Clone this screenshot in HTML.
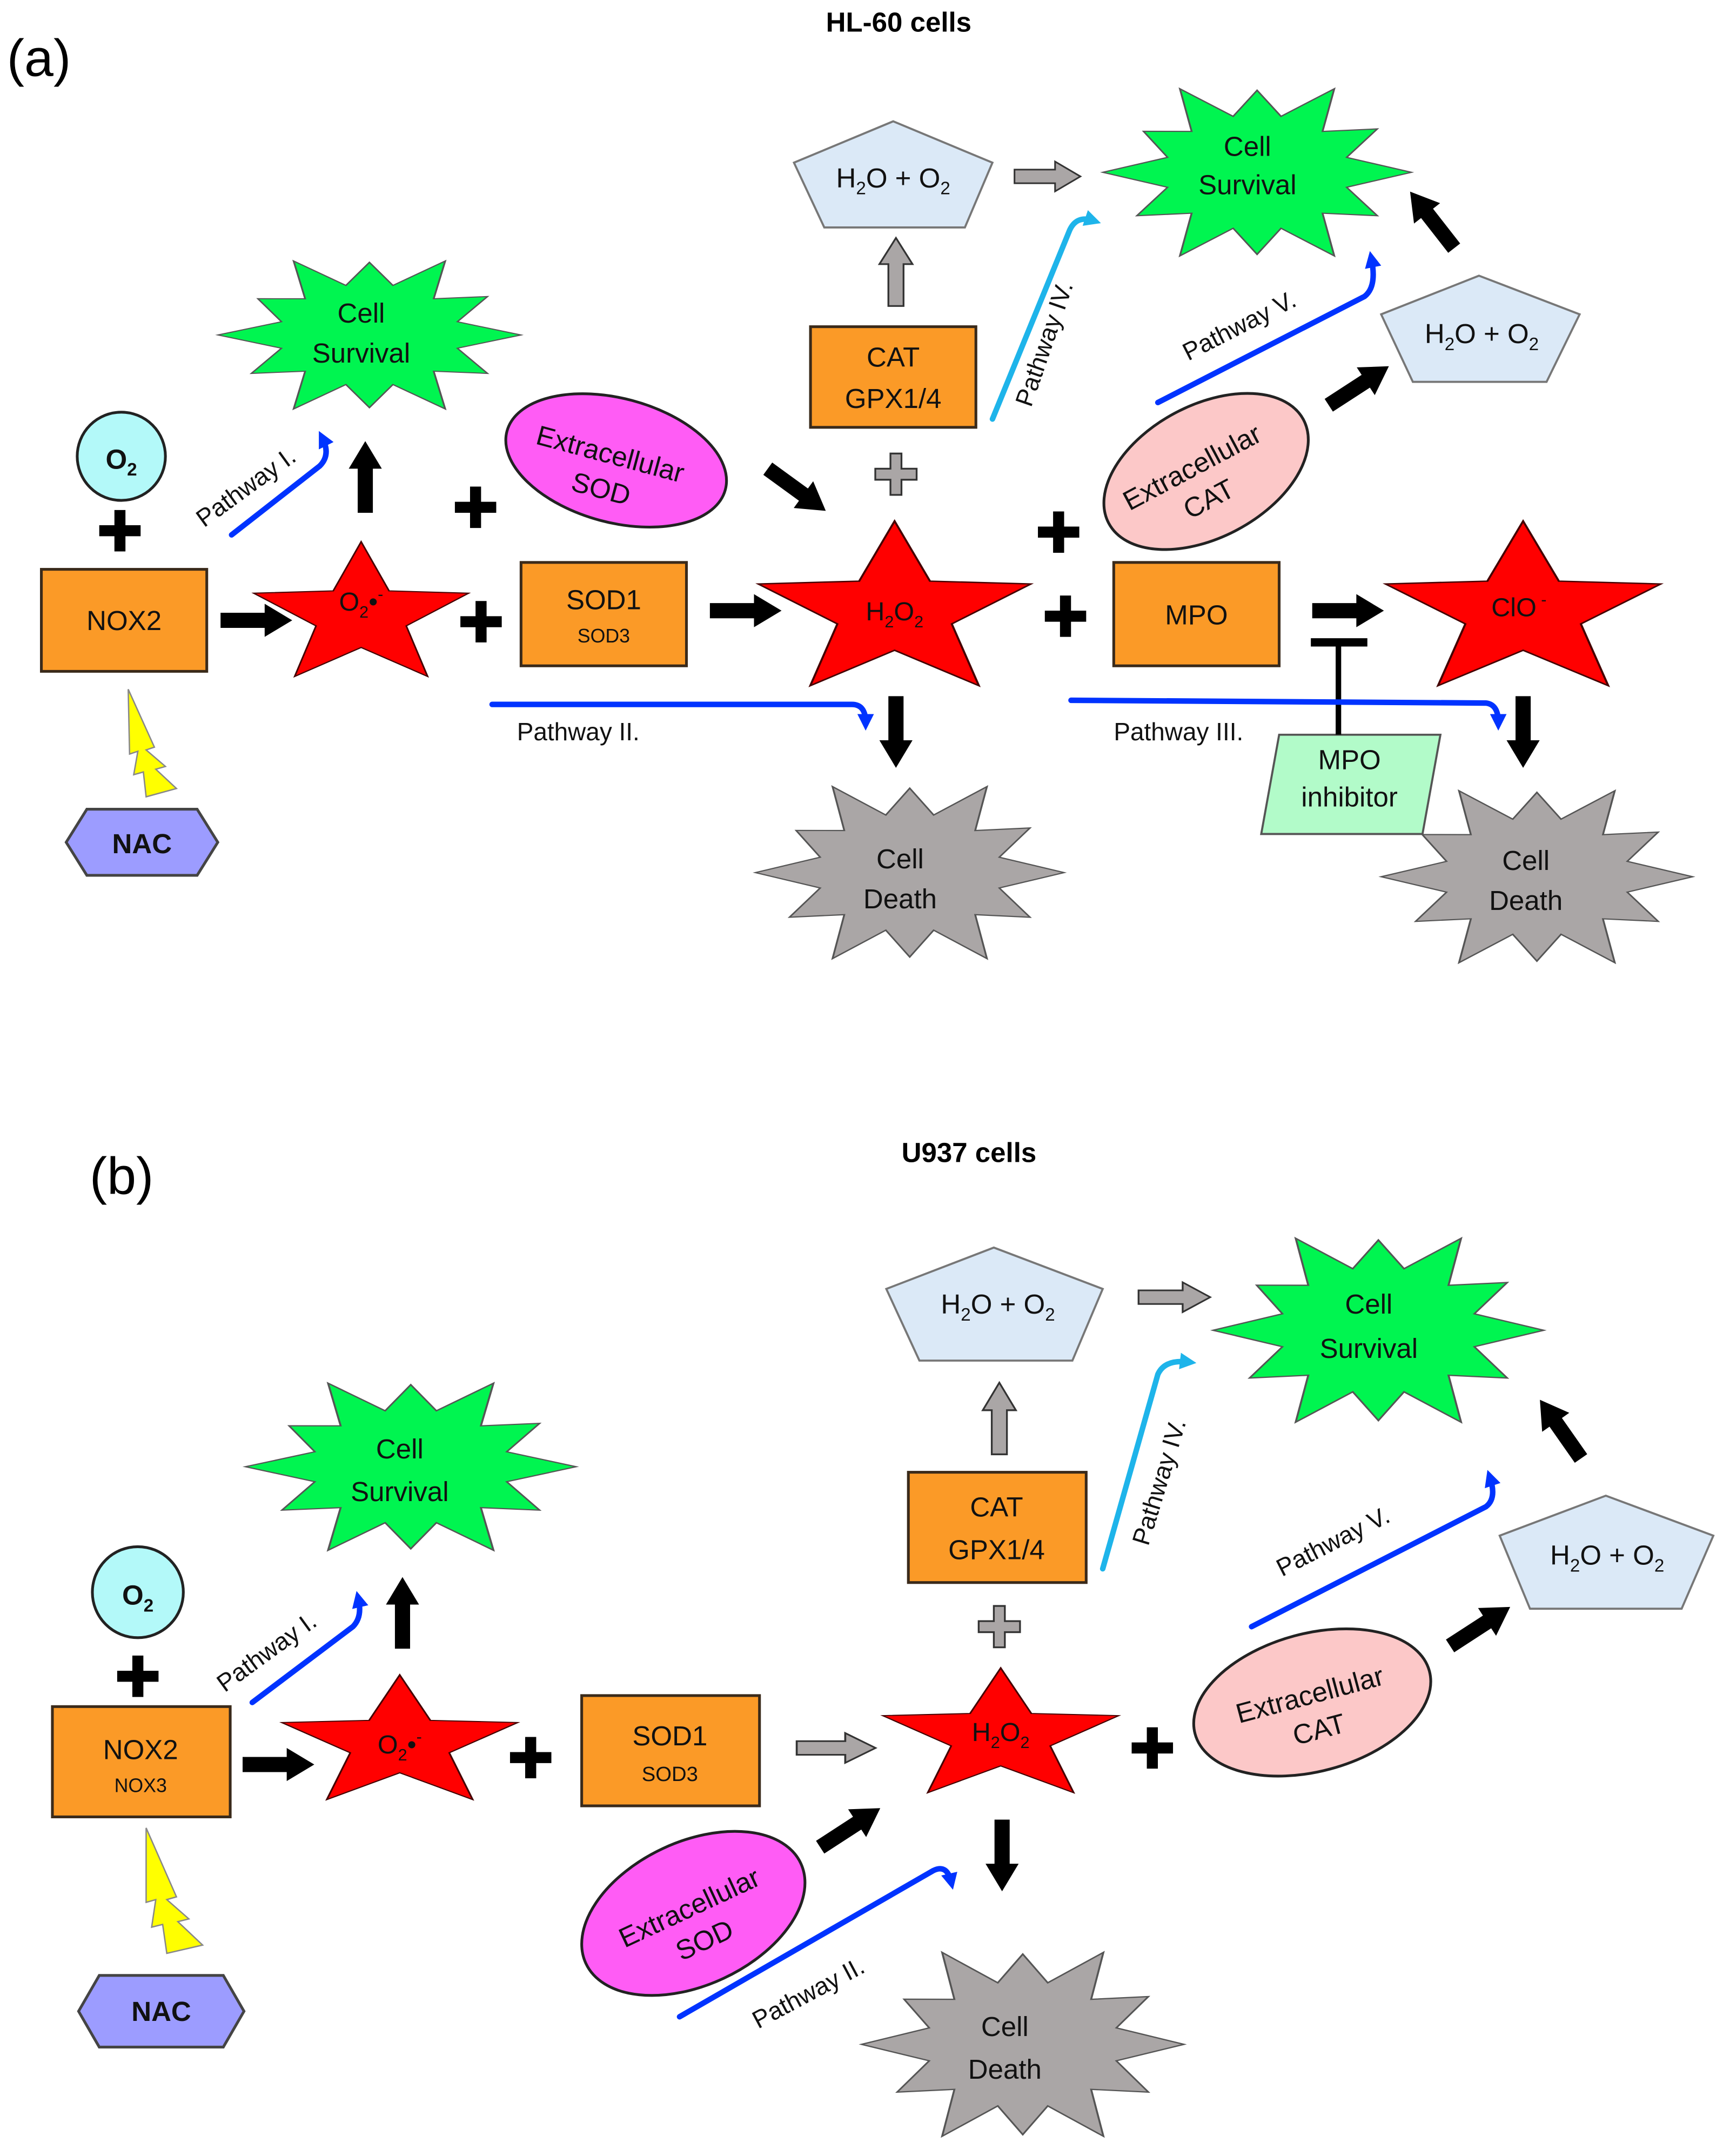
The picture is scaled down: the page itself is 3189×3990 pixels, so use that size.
<!DOCTYPE html>
<html><head><meta charset="utf-8"><style>
html,body{margin:0;padding:0;background:#fff}
svg{display:block}
text{font-family:"Liberation Sans",sans-serif}
</style></head><body>
<svg width="3189" height="3990" viewBox="0 0 1250 1564" xmlns="http://www.w3.org/2000/svg">
<defs>
<path id="star" d="M0,-1 L0.247,-0.34 L0.951,-0.309 L0.399,0.13 L0.588,0.809 L0,0.42 L-0.588,0.809 L-0.399,0.13 L-0.951,-0.309 L-0.247,-0.34 Z"/>
<path id="burst" d="M1,0 L0.58,0.155 L0.779,0.45 L0.424,0.424 L0.5,0.866 L0.155,0.58 L0,0.85 L-0.155,0.58 L-0.5,0.866 L-0.424,0.424 L-0.779,0.45 L-0.58,0.155 L-1,0 L-0.58,-0.155 L-0.736,-0.425 L-0.424,-0.424 L-0.5,-0.866 L-0.155,-0.58 L0,-0.85 L0.155,-0.58 L0.5,-0.866 L0.424,-0.424 L0.779,-0.45 L0.58,-0.155 Z"/>
<path id="arr" d="M0,-5.5 H32 V-12 L52,0 L32,12 V5.5 H0 Z"/>
<path id="plus" d="M-4,-15 H4 V-4 H15 V4 H4 V15 H-4 V4 H-15 V-4 H-4 Z"/>
<marker id="bh" markerWidth="3" markerHeight="3" refX="1.5" refY="1.5" orient="auto" markerUnits="strokeWidth"><path d="M0,0 L3,1.5 L0,3 Z" fill="#0033ff"/></marker>
<marker id="lh" markerWidth="3" markerHeight="3" refX="1.5" refY="1.5" orient="auto" markerUnits="strokeWidth"><path d="M0,0 L3,1.5 L0,3 Z" fill="#1eb4ea"/></marker>
</defs>

<text x="5" y="55" font-size="38">(a)</text>
<text x="652" y="23" font-size="20" font-weight="bold" text-anchor="middle">HL-60 cells</text>
<text x="65" y="866" font-size="38">(b)</text>
<text x="703" y="843" font-size="20" font-weight="bold" text-anchor="middle">U937 cells</text>

<g stroke="#555" stroke-width="0.012">
<use href="#burst" transform="translate(268,243) scale(110,62)" fill="#00f550"/>
<use href="#burst" transform="translate(912,125) scale(112,70)" fill="#00f550"/>
<use href="#burst" transform="translate(660,633) scale(112,72)" fill="#aaa6a6"/>
<use href="#burst" transform="translate(1115,636) scale(113,72)" fill="#aaa6a6"/>
<use href="#burst" transform="translate(298,1064) scale(120,70)" fill="#00f550"/>
<use href="#burst" transform="translate(1000,965) scale(120,77)" fill="#00f550"/>
<use href="#burst" transform="translate(742,1483) scale(117,77)" fill="#aaa6a6"/>
</g>

<g stroke="#400" stroke-width="0.015">
<use href="#star" transform="translate(262,447) scale(82,54)" fill="#ff0000"/>
<use href="#star" transform="translate(649,444) scale(104,66)" fill="#ff0000"/>
<use href="#star" transform="translate(1105,444) scale(105,66)" fill="#ff0000"/>
<use href="#star" transform="translate(290,1265) scale(90,50)" fill="#ff0000"/>
<use href="#star" transform="translate(726,1260) scale(90,50)" fill="#ff0000"/>
</g>

<g fill="#dbe9f7" stroke="#777" stroke-width="1.5">
<polygon points="648,88 720,118 700,165 598,165 576,118"/>
<polygon points="1073,200 1146,228 1122,277 1025,277 1002,228"/>
<polygon points="721,905 800,935 778,987 667,987 643,935"/>
<polygon points="1165,1085 1243,1114 1220,1167 1110,1167 1088,1114"/>
</g>

<g fill="#fb9a27" stroke="#3a2a1a" stroke-width="2">
<rect x="30" y="413" width="120" height="74"/>
<rect x="378" y="408" width="120" height="75"/>
<rect x="588" y="237" width="120" height="73"/>
<rect x="808" y="408" width="120" height="75"/>
<rect x="38" y="1238" width="129" height="80"/>
<rect x="422" y="1230" width="129" height="80"/>
<rect x="659" y="1068" width="129" height="80"/>
</g>

<ellipse cx="447" cy="334" rx="82" ry="45" transform="rotate(15 447 334)" fill="#ff5cf5" stroke="#222" stroke-width="2"/>
<ellipse cx="875" cy="342" rx="80" ry="48" transform="rotate(-28 875 342)" fill="#fcc8c8" stroke="#222" stroke-width="2"/>
<ellipse cx="503" cy="1388" rx="86" ry="52" transform="rotate(-25 503 1388)" fill="#ff5cf5" stroke="#222" stroke-width="2"/>
<ellipse cx="952" cy="1235" rx="88" ry="50" transform="rotate(-15 952 1235)" fill="#fcc8c8" stroke="#222" stroke-width="2"/>

<circle cx="88" cy="331" r="32" fill="#b3f9f9" stroke="#222" stroke-width="2"/>
<circle cx="100" cy="1155" r="33" fill="#b3f9f9" stroke="#222" stroke-width="2"/>

<polygon points="63,587 143,587 158,611 143,635 63,635 48,611" fill="#9c9cff" stroke="#444" stroke-width="2"/>
<polygon points="72,1433 162,1433 177,1459 162,1485 72,1485 57,1459" fill="#9c9cff" stroke="#444" stroke-width="2"/>

<polygon points="93,500 112,542 106,544 120,556 113,558 128,572 106,578 104,560 97,562 100,545 94,547" fill="#ffff00" stroke="#888" stroke-width="1"/>
<polygon points="106,1326 128,1376 121,1378 137,1392 129,1394 147,1411 121,1417 118,1396 110,1398 113,1378 106,1380" fill="#ffff00" stroke="#888" stroke-width="1"/>

<polygon points="928,533 1045,533 1032,605 915,605" fill="#b2fbc9" stroke="#555" stroke-width="1.5"/>
<line x1="971" y1="533" x2="971" y2="466" stroke="#000" stroke-width="4"/>
<line x1="951" y1="466" x2="992" y2="466" stroke="#000" stroke-width="6"/>

<g fill="#000">
<use href="#arr" transform="translate(160,450)"/>
<use href="#arr" transform="translate(265,372) rotate(-90)"/>
<use href="#arr" transform="translate(515,443)"/>
<use href="#arr" transform="translate(557,340) rotate(36)"/>
<use href="#arr" transform="translate(952,443)"/>
<use href="#arr" transform="translate(650,505) rotate(90)"/>
<use href="#arr" transform="translate(1105,505) rotate(90)"/>
<use href="#arr" transform="translate(964,294) rotate(-33)"/>
<use href="#arr" transform="translate(1055,180) rotate(-128)"/>
<use href="#arr" transform="translate(176,1280)"/>
<use href="#arr" transform="translate(292,1196) rotate(-90)"/>
<use href="#arr" transform="translate(595,1340) rotate(-33)"/>
<use href="#arr" transform="translate(727,1320) rotate(90)"/>
<use href="#arr" transform="translate(1052,1194) rotate(-33)"/>
<use href="#arr" transform="translate(1147,1058) rotate(-125)"/>
<use href="#plus" transform="translate(87,385)"/>
<use href="#plus" transform="translate(345,368)"/>
<use href="#plus" transform="translate(349,451)"/>
<use href="#plus" transform="translate(768,386)"/>
<use href="#plus" transform="translate(773,447)"/>
<use href="#plus" transform="translate(100,1216)"/>
<use href="#plus" transform="translate(385,1275)"/>
<use href="#plus" transform="translate(836,1268)"/>
</g>
<g fill="#aaa6a6" stroke="#333" stroke-width="1.3">
<use href="#arr" transform="translate(650,222) rotate(-90) scale(0.95,1)"/>
<use href="#arr" transform="translate(736,128) scale(0.92,0.9)"/>
<use href="#arr" transform="translate(578,1268) scale(1.1,0.9)"/>
<use href="#arr" transform="translate(725,1055) rotate(-90)"/>
<use href="#arr" transform="translate(826,941) scale(1,0.9)"/>
<use href="#plus" transform="translate(650,344)"/>
<use href="#plus" transform="translate(725,1180)"/>
</g>

<g fill="none" stroke="#0033ff" stroke-width="4" stroke-linecap="round">
<path d="M168,388 L232,338 Q240,330 234,318" marker-end="url(#bh)"/>
<path d="M357,511 L618,511 Q628,511 628,524" marker-end="url(#bh)"/>
<path d="M777,508 L1078,510 Q1087,511 1087,524" marker-end="url(#bh)"/>
<path d="M840,292 L990,215 Q999,208 995,188" marker-end="url(#bh)"/>
<path d="M183,1235 L256,1180 Q263,1173 260,1160" marker-end="url(#bh)"/>
<path d="M493,1463 L677,1357 Q687,1352 690,1365" marker-end="url(#bh)"/>
<path d="M908,1180 L1078,1093 Q1086,1087 1081,1072" marker-end="url(#bh)"/>
</g>
<g fill="none" stroke="#1eb4ea" stroke-width="4" stroke-linecap="round">
<path d="M720,304 L776,167 Q781,156 793,160" marker-end="url(#lh)"/>
<path d="M800,1138 L840,997 Q845,986 862,988" marker-end="url(#lh)"/>
</g>

<g font-size="18" fill="#111">
<text transform="translate(148,383) rotate(-36)">Pathway I.</text>
<text x="375" y="537">Pathway II.</text>
<text x="808" y="537">Pathway III.</text>
<text transform="translate(748,296) rotate(-71)">Pathway IV.</text>
<text transform="translate(862,262) rotate(-27)">Pathway V.</text>
<text transform="translate(163,1228) rotate(-36)">Pathway I.</text>
<text transform="translate(550,1472) rotate(-28)">Pathway II.</text>
<text transform="translate(833,1122) rotate(-73)">Pathway IV.</text>
<text transform="translate(930,1144) rotate(-27)">Pathway V.</text>
</g>

<g font-size="20" fill="#111" text-anchor="middle">
<text x="262" y="234">Cell</text><text x="262" y="263">Survival</text>
<text x="905" y="113">Cell</text><text x="905" y="141">Survival</text>
<text x="653" y="630">Cell</text><text x="653" y="659">Death</text>
<text x="1107" y="631">Cell</text><text x="1107" y="660">Death</text>
<text x="290" y="1058">Cell</text><text x="290" y="1089">Survival</text>
<text x="993" y="953">Cell</text><text x="993" y="985">Survival</text>
<text x="729" y="1477">Cell</text><text x="729" y="1508">Death</text>

<text x="90" y="457">NOX2</text>
<text x="438" y="442">SOD1</text><text x="438" y="466" font-size="14">SOD3</text>
<text x="648" y="266">CAT</text><text x="648" y="296">GPX1/4</text>
<text x="868" y="453">MPO</text>
<text x="102" y="1276">NOX2</text><text x="102" y="1300" font-size="14">NOX3</text>
<text x="486" y="1266">SOD1</text><text x="486" y="1292" font-size="15">SOD3</text>
<text x="723" y="1100">CAT</text><text x="723" y="1131">GPX1/4</text>
<text x="979" y="558">MPO</text><text x="979" y="585">inhibitor</text>

<text x="648" y="136">H<tspan font-size="13" dy="5">2</tspan><tspan dy="-5">O + O</tspan><tspan font-size="13" dy="5">2</tspan></text>
<text x="1075" y="249">H<tspan font-size="13" dy="5">2</tspan><tspan dy="-5">O + O</tspan><tspan font-size="13" dy="5">2</tspan></text>
<text x="724" y="953">H<tspan font-size="13" dy="5">2</tspan><tspan dy="-5">O + O</tspan><tspan font-size="13" dy="5">2</tspan></text>
<text x="1166" y="1135">H<tspan font-size="13" dy="5">2</tspan><tspan dy="-5">O + O</tspan><tspan font-size="13" dy="5">2</tspan></text>

<text x="441" y="336" transform="rotate(15 441 336)">Extracellular</text><text x="441" y="362" transform="rotate(15 441 336)">SOD</text>
<text x="868" y="345" transform="rotate(-28 868 345)">Extracellular</text><text x="868" y="371" transform="rotate(-28 868 345)">CAT</text>
<text x="503" y="1390" transform="rotate(-25 503 1390)">Extracellular</text><text x="503" y="1416" transform="rotate(-25 503 1390)">SOD</text>
<text x="952" y="1236" transform="rotate(-15 952 1236)">Extracellular</text><text x="952" y="1262" transform="rotate(-15 952 1236)">CAT</text>

<g font-weight="bold">
<text x="88" y="340">O<tspan font-size="13" dy="5">2</tspan></text>
<text x="100" y="1164">O<tspan font-size="13" dy="5">2</tspan></text>
<text x="103" y="619">NAC</text>
<text x="117" y="1466">NAC</text>
</g>
<text x="262" y="443" font-size="19">O<tspan font-size="12" dy="5">2</tspan><tspan dy="-5">•</tspan><tspan font-size="12" dy="-8">-</tspan></text>
<text x="649" y="450" font-size="19">H<tspan font-size="12" dy="5">2</tspan><tspan dy="-5">O</tspan><tspan font-size="12" dy="5">2</tspan></text>
<text x="1102" y="447" font-size="19">ClO<tspan font-size="12" dy="-8"> -</tspan></text>
<text x="290" y="1272" font-size="19">O<tspan font-size="12" dy="5">2</tspan><tspan dy="-5">•</tspan><tspan font-size="12" dy="-8">-</tspan></text>
<text x="726" y="1263" font-size="19">H<tspan font-size="12" dy="5">2</tspan><tspan dy="-5">O</tspan><tspan font-size="12" dy="5">2</tspan></text>
</g>
</svg>
</body></html>
